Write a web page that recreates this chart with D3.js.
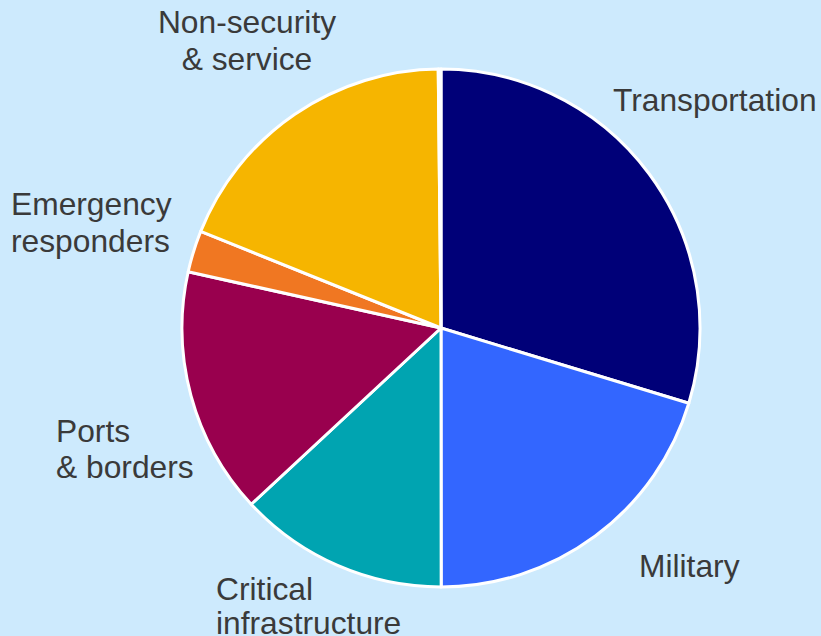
<!DOCTYPE html>
<html>
<head>
<meta charset="utf-8">
<script src="https://cdn.jsdelivr.net/npm/d3@7"></script>
<style>
  html, body { margin: 0; padding: 0; background: #cdeafd; }
  svg { display: block; }
  text { font-family: "Liberation Sans", Arial, sans-serif; font-size: 31.75px; fill: #3a3a3a; }
</style>
</head>
<body>
<svg id="chart" width="821" height="636"></svg>
<script>
// Slice categories, clockwise from 12 o'clock
const categories = ["Transportation", "Military", "Critical infrastructure", "Ports & borders",
                    "Emergency responders", "Non-security & service", "Other"];
// Share of total (%)
const shares = [29.7, 20.3, 13.1, 15.4, 2.6, 18.75, 0.17];
const colors = ["#000078", "#3366ff", "#00a4b1", "#99004e", "#f07722", "#f6b500", "#ffffff"];

// Label text lines per category
const labelLines = {
  "Transportation": ["Transportation"],
  "Military": ["Military"],
  "Critical infrastructure": ["Critical", "infrastructure"],
  "Ports & borders": ["Ports", "& borders"],
  "Emergency responders": ["Emergency", "responders"],
  "Non-security & service": ["Non-security", "& service"]
};

// Label placement (anchor point, alignment, line spacing)
const labelLayout = {
  "Transportation": { x: 613, y: 111, anchor: "start", lh: 36 },
  "Military": { x: 639, y: 577, anchor: "start", lh: 36 },
  "Critical infrastructure": { x: 216, y: 600, anchor: "start", lh: 34 },
  "Ports & borders": { x: 56, y: 442, anchor: "start", lh: 36 },
  "Emergency responders": { x: 11, y: 215, anchor: "start", lh: 37 },
  "Non-security & service": { x: 247, y: 33, anchor: "middle", lh: 37 }
};

const svg = d3.select("#chart");
const cx = 441, cy = 328, radius = 259;

const data = categories.map((c, i) => ({ name: c, value: shares[i], color: colors[i] }));

const pie = d3.pie().sort(null).value(d => d.value);
const arc = d3.arc().innerRadius(0).outerRadius(radius);

const g = svg.append("g").attr("transform", `translate(${cx},${cy})`);

g.selectAll("path")
  .data(pie(data))
  .join("path")
  .attr("d", arc)
  .attr("fill", d => d.data.color)
  .attr("stroke", "#ffffff")
  .attr("stroke-width", 3)
  .attr("stroke-linejoin", "round");

const labels = svg.selectAll("text.label")
  .data(data.filter(d => labelLines[d.name]))
  .join("text")
  .attr("class", "label")
  .attr("text-anchor", d => labelLayout[d.name].anchor);

labels.each(function(d) {
  const L = labelLayout[d.name];
  d3.select(this).selectAll("tspan")
    .data(labelLines[d.name])
    .join("tspan")
    .attr("x", L.x)
    .attr("y", (t, i) => L.y + i * L.lh)
    .text(t => t);
});
</script>
</body>
</html>
